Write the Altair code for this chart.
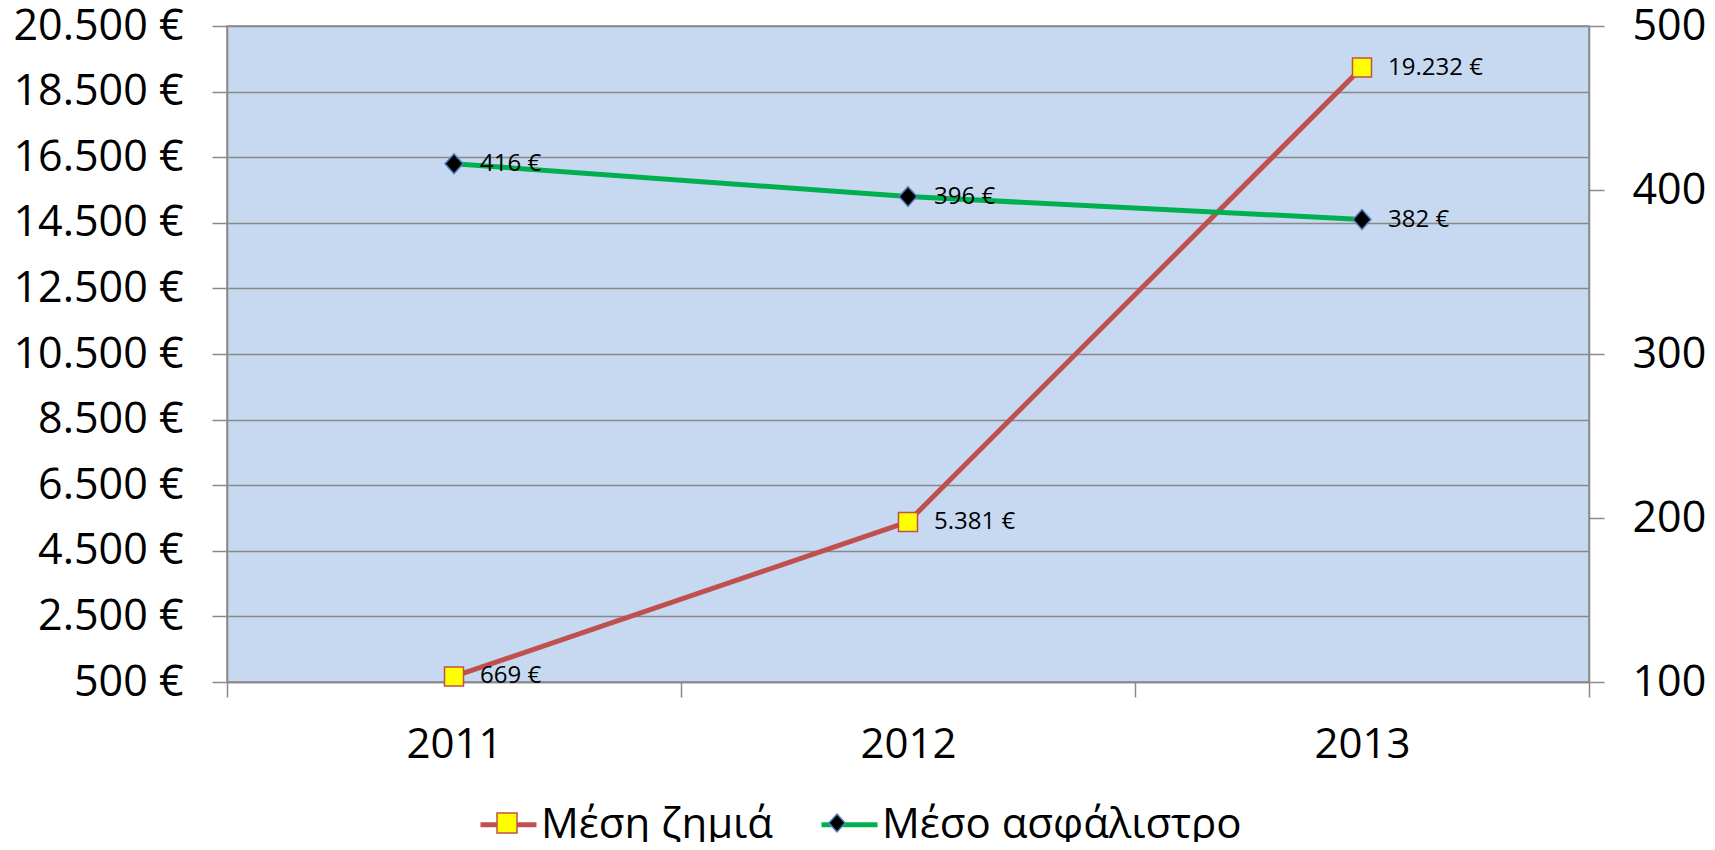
import altair as alt
import pandas as pd

# ---- data ----
years = ["2011", "2012", "2013"]
loss_values = [669, 5381, 19232]          # Μέση ζημιά (left axis)
premium_values = [416, 396, 382]          # Μέσο ασφάλιστρο (right axis)
series_names = ["Μέση ζημιά", "Μέσο ασφάλιστρο"]
left_ticks = [500, 2500, 4500, 6500, 8500, 10500, 12500, 14500, 16500, 18500, 20500]
right_ticks = [100, 200, 300, 400, 500]

loss_df = pd.DataFrame({"year": years, "value": loss_values,
                        "series": series_names[0], "marker": series_names[0]})
prem_df = pd.DataFrame({"year": years, "value": premium_values,
                        "series": series_names[1], "marker": series_names[1]})

FONT = "Open Sans"
GRID = "#898989"
SQUARE_PATH = "M-0.357,-0.357H0.357V0.357H-0.357Z"
DIAMOND_PATH = "M0,-0.32L0.29,0L0,0.32L-0.29,0Z"
euro_expr = "replace(format(datum.value, ','), ',', '.') + ' €'"

x_enc = alt.X(
    "year:N", title=None,
    scale=alt.Scale(paddingInner=0, paddingOuter=0),
    axis=alt.Axis(labelAngle=0, tickBand="extent", tickSize=15, tickColor=GRID, tickWidth=1.5,
                  domainColor=GRID, domainWidth=1.5, labelFont=FONT, labelFontSize=42,
                  labelColor="black", labelPadding=27, grid=False),
)

legend_common = dict(orient="none", legendX=251, legendY=768, direction="horizontal", title=None,
                     labelFont=FONT, labelFontSize=42, labelColor="black", symbolSize=3136,
                     labelOffset=2, columnPadding=37, padding=0, labelLimit=0)
line_legend = alt.Legend(symbolType="stroke", symbolStrokeWidth=5, zindex=0, **legend_common)
marker_legend = alt.Legend(symbolStrokeWidth=1.5, labelOpacity=0, zindex=1, **legend_common)

color_enc = alt.Color("series:N", scale=alt.Scale(range=["#C0504D", "#00B050"]), legend=line_legend)
fill_enc = alt.Fill("marker:N", scale=alt.Scale(range=["#FFFF00", "#000000"]), legend=marker_legend)
stroke_enc = alt.Stroke("marker:N", scale=alt.Scale(range=["#C0504D", "#4F81BD"]), legend=marker_legend)
shape_enc = alt.Shape("marker:N", scale=alt.Scale(range=[SQUARE_PATH, DIAMOND_PATH]), legend=marker_legend)

y_left = alt.Y("value:Q", title=None,
               scale=alt.Scale(domain=[500, 20500], nice=False, zero=False),
               axis=alt.Axis(orient="left", values=left_ticks, grid=True, gridColor=GRID, gridWidth=1.5,
                             tickSize=15, tickColor=GRID, tickWidth=1.5, domainColor=GRID, domainWidth=1.5,
                             labelFont=FONT, labelFontSize=43, labelColor="black", labelPadding=29,
                             labelExpr=euro_expr))
y_right = alt.Y("value:Q", title=None,
                scale=alt.Scale(domain=[100, 500], nice=False, zero=False),
                axis=alt.Axis(orient="right", values=right_ticks, grid=False,
                              tickSize=15, tickColor=GRID, tickWidth=1.5, domainColor=GRID, domainWidth=1.5,
                              labelFont=FONT, labelFontSize=43, labelColor="black", labelPadding=28))


def series_layer(df, y_enc, size):
    base = alt.Chart(df)
    line = base.mark_line(strokeWidth=5, strokeJoin="round", strokeCap="round").encode(
        x=x_enc, y=y_enc, color=color_enc)
    pts = base.mark_point(filled=True, opacity=1, strokeWidth=1.5, size=size).encode(
        x=x_enc, y=y_enc, fill=fill_enc, stroke=stroke_enc, shape=shape_enc)
    txt = base.transform_calculate(
        label="replace(format(datum.value, ','), ',', '.') + ' €'"
    ).mark_text(align="left", baseline="middle", dx=26, font=FONT, fontSize=24, color="black").encode(
        x=x_enc, y=y_enc, text="label:N")
    return alt.layer(line, pts, txt)


left = series_layer(loss_df, y_left, 2833)
right = series_layer(prem_df, y_right, 3844)

chart = (
    alt.layer(left, right)
    .resolve_scale(y="independent")
    .properties(width=1362, height=656,
                autosize=alt.AutoSizeParams(type="none"),
                padding={"left": 219, "top": 18, "right": 118, "bottom": 160})
    .configure_view(fill="#C6D9F1", stroke=GRID, strokeWidth=1.5)
)

chart.save("out.html", embed_options={"renderer": "svg", "actions": False})
